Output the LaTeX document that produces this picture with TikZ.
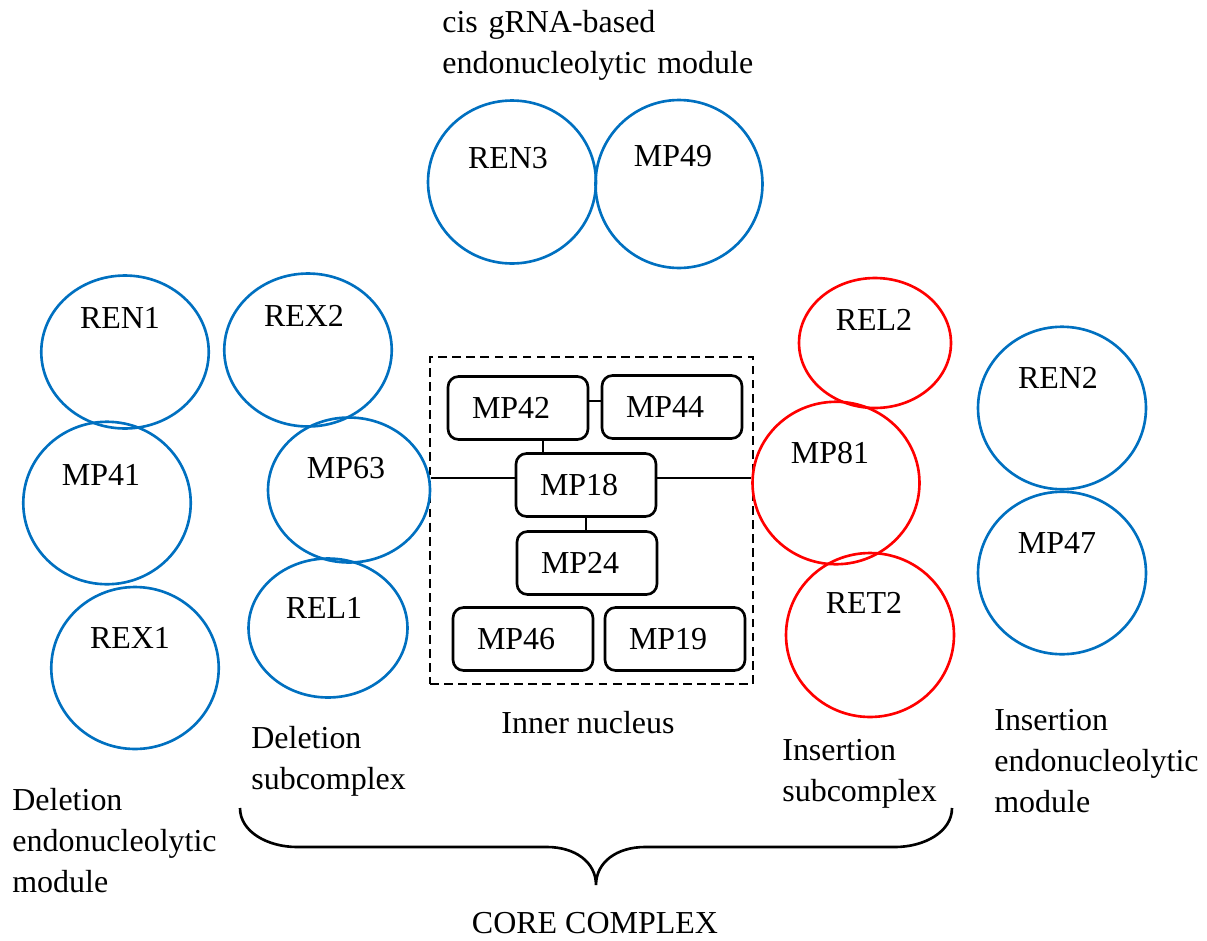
\documentclass[tikz,border=0pt]{standalone}
\usepackage{fontspec}
\setmainfont{Liberation Serif}
\usetikzlibrary{shapes.geometric,calc}
\definecolor{protblue}{RGB}{0,112,192}
\definecolor{protred}{RGB}{255,0,0}

\begin{document}
\begin{tikzpicture}[
    x=0.02cm, y=-0.02cm,
    every node/.style={font=\fontsize{18.2}{23.6}\selectfont},
    blob/.style={ellipse, draw=protblue, line width=1.5pt, minimum width=3.35cm, minimum height=3.25cm, inner sep=0pt},
    redblob/.style={blob, draw=protred},
    tag/.style={anchor=base, inner sep=0pt},
    box/.style={rectangle, rounded corners=6pt, draw, line width=1.5pt, minimum width=2.8cm, minimum height=1.26cm, text width=1.84cm, inner xsep=0.48cm, inner ysep=0pt, align=left},
    frame/.style={rectangle, draw, dashed, dash pattern=on 5pt off 3pt, line width=1.3pt, minimum width=6.46cm, minimum height=6.54cm},
    caption/.style={anchor=base west, inner sep=0pt, text width=7cm, align=left},
    link/.style={line width=1.3pt}
]
    \useasboundingbox (0,0) rectangle (1207,940);

    % inner nucleus
    \node[frame] (inner) at (591.5,520.5) {};
    \node[box] (mp42) at (518,408) {MP42};
    \node[box] (mp44) at (672,407) {MP44};
    \node[box] (mp18) at (586,485) {MP18};
    \node[box] (mp24) at (587,563) {MP24};
    \node[box] (mp46) at (523,639) {MP46};
    \node[box] (mp19) at (675,639) {MP19};

    % cis gRNA module
    \node[blob, minimum width=3.36cm, minimum height=3.26cm] (ren3) at (512,182) {};
    \node[blob, minimum width=3.34cm, minimum height=3.36cm] (mp49) at (679,184) {};
    \node[tag] (ren3-l) at (508,168) {REN3};
    \node[tag] (mp49-l) at (673,166) {MP49};

    % deletion endonucleolytic module
    \node[blob, minimum height=3.06cm] (ren1) at (125,352) {};
    \node[blob] (mp41) at (107,503) {};
    \node[blob, minimum height=3.24cm] (rex1) at (135,668) {};
    \node[tag] (ren1-l) at (120,328) {REN1};
    \node[tag] (mp41-l) at (101,485) {MP41};
    \node[tag] (rex1-l) at (130,648) {REX1};

    % deletion subcomplex
    \node[blob, minimum height=3.06cm] (rex2) at (308,350) {};
    \node[blob, minimum width=3.24cm, minimum height=2.9cm] (mp63) at (349,490) {};
    \node[blob, minimum width=3.18cm, minimum height=2.78cm] (rel1) at (328,628) {};
    \node[tag] (rex2-l) at (304,326) {REX2};
    \node[tag] (mp63-l) at (346,478) {MP63};
    \node[tag] (rel1-l) at (324,618) {REL1};

    % insertion subcomplex
    \node[redblob, minimum width=3.04cm, minimum height=2.6cm] (rel2) at (875,343) {};
    \node[redblob, minimum width=3.34cm] (mp81) at (836,483) {};
    \node[redblob, minimum width=3.36cm, minimum height=3.28cm] (ret2) at (870,635) {};
    \node[tag] (rel2-l) at (874,330) {REL2};
    \node[tag] (mp81-l) at (830,463) {MP81};
    \node[tag] (ret2-l) at (864,613) {RET2};

    % insertion endonucleolytic module
    \node[blob, minimum width=3.36cm] (ren2) at (1062,408) {};
    \node[blob, minimum width=3.36cm] (mp47) at (1062,573) {};
    \node[tag] (ren2-l) at (1058,388) {REN2};
    \node[tag] (mp47-l) at (1057,553) {MP47};

    % links
    \draw[link] ($(mp42.east)+(0,-7)$) -- ($(mp44.west)+(0,-6)$);
    \draw[link] ($(mp42.south)+(25,0)$) -- ($(mp18.north)+(-43,0)$);
    \draw[link] (mp18.south) -- (mp18.south |- mp24.north);
    \draw[link] ($(mp63.east)+(0,-12)$) -- ($(mp18.west)+(0,-7)$);
    \draw[link] ($(mp18.east)+(0,-7)$) -- ($(mp81.west)+(0,-5)$);

    % captions
    \node[caption] (cis) at (442,32) {cis gRNA-based\\endonucleolytic module};
    \node[caption] (delmod) at (12,810) {Deletion\\endonucleolytic\\module};
    \node[caption] (delsub) at (251,748) {Deletion\\subcomplex};
    \node[tag] (nucleus) at (588,733) {Inner nucleus};
    \node[caption] (inssub) at (782,760) {Insertion\\subcomplex};
    \node[caption] (insmod) at (994,730) {Insertion\\endonucleolytic\\module};
    \node[tag] (core) at (595,933) {CORE COMPLEX};

    % brace
    \coordinate (bl) at (240,808);
    \coordinate (tip) at (596,885);
    \coordinate (br) at (952,808);
    \draw[line width=1.5pt] (bl) .. controls (240,832) and (268,847) .. (297,847) -- (547,847)
        .. controls (575,847) and (596,862) .. (tip)
        .. controls (596,862) and (617,847) .. (645,847) -- (895,847)
        .. controls (924,847) and (952,832) .. (br);
\end{tikzpicture}
\end{document}
